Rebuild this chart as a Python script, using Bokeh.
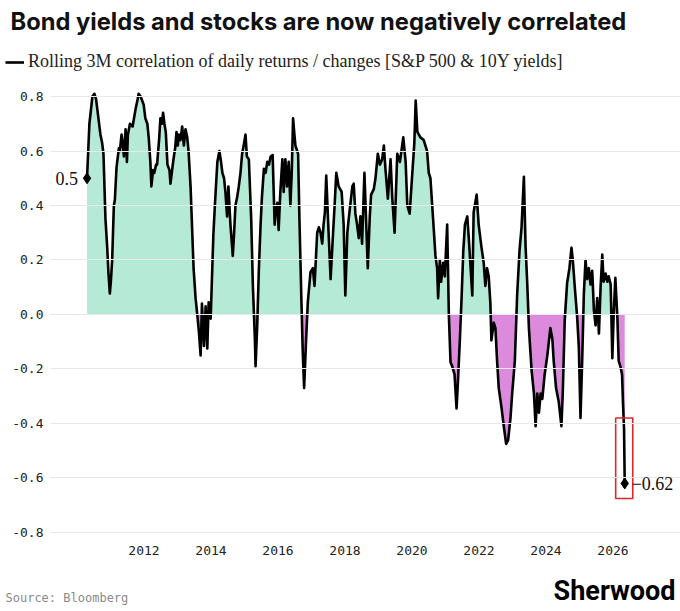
import numpy as np
from bokeh.plotting import figure
from bokeh.layouts import column
from bokeh.models import (Range1d, FixedTicker, NumeralTickFormatter, Label, Grid,
                          Legend, LegendItem)
from bokeh.core.properties import value
from bokeh.embed import file_html
from bokeh.resources import INLINE

# ---------------- data ----------------
years = [
    2010.30, 2010.37, 2010.46, 2010.52, 2010.57, 2010.64, 2010.70, 2010.75, 2010.79, 2010.85,
    2010.90, 2010.94, 2010.98, 2011.01, 2011.05, 2011.10, 2011.13, 2011.18, 2011.21, 2011.25,
    2011.28, 2011.33, 2011.37, 2011.40, 2011.45, 2011.49, 2011.52, 2011.58, 2011.66, 2011.75,
    2011.81, 2011.84, 2011.90, 2011.99, 2012.04, 2012.10, 2012.14, 2012.19, 2012.22, 2012.27,
    2012.31, 2012.36, 2012.39, 2012.45, 2012.49, 2012.53, 2012.57, 2012.61, 2012.65, 2012.70,
    2012.76, 2012.79, 2012.82, 2012.88, 2012.93, 2012.97, 2013.01, 2013.04, 2013.09, 2013.14,
    2013.19, 2013.24, 2013.29, 2013.33, 2013.39, 2013.48, 2013.54, 2013.59, 2013.64, 2013.69,
    2013.73, 2013.79, 2013.84, 2013.89, 2013.93, 2013.99, 2014.07, 2014.12, 2014.19, 2014.25,
    2014.30, 2014.34, 2014.39, 2014.43, 2014.48, 2014.52, 2014.58, 2014.65, 2014.69, 2014.73,
    2014.78, 2014.83, 2014.88, 2014.93, 2014.99, 2015.03, 2015.07, 2015.13, 2015.20, 2015.25,
    2015.31, 2015.33, 2015.38, 2015.43, 2015.48, 2015.52, 2015.58, 2015.63, 2015.68, 2015.73,
    2015.78, 2015.84, 2015.90, 2015.94, 2015.98, 2016.02, 2016.07, 2016.13, 2016.17, 2016.22,
    2016.27, 2016.32, 2016.37, 2016.41, 2016.45, 2016.49, 2016.52, 2016.60, 2016.64, 2016.70,
    2016.74, 2016.78, 2016.84, 2016.89, 2016.93, 2016.97, 2017.04, 2017.09, 2017.17, 2017.22,
    2017.27, 2017.32, 2017.36, 2017.40, 2017.44, 2017.50, 2017.57, 2017.64, 2017.69, 2017.74,
    2017.81, 2017.90, 2017.96, 2018.01, 2018.07, 2018.11, 2018.22, 2018.26, 2018.31, 2018.36,
    2018.41, 2018.46, 2018.51, 2018.58, 2018.64, 2018.68, 2018.74, 2018.78, 2018.86, 2018.91,
    2018.98, 2019.04, 2019.11, 2019.16, 2019.21, 2019.28, 2019.36, 2019.41, 2019.48, 2019.56,
    2019.64, 2019.74, 2019.81, 2019.86, 2019.93, 2020.01, 2020.07, 2020.11, 2020.16, 2020.25,
    2020.35, 2020.45, 2020.50, 2020.55, 2020.63, 2020.70, 2020.75, 2020.78, 2020.83, 2020.87,
    2020.93, 2020.98, 2021.05, 2021.10, 2021.15, 2021.20, 2021.27, 2021.33, 2021.37, 2021.43,
    2021.48, 2021.53, 2021.58, 2021.65, 2021.70, 2021.75, 2021.80, 2021.84, 2021.93, 2021.99,
    2022.07, 2022.14, 2022.19, 2022.24, 2022.29, 2022.34, 2022.37, 2022.44, 2022.49, 2022.54,
    2022.59, 2022.67, 2022.74, 2022.81, 2022.87, 2022.94, 2022.99, 2023.07, 2023.14, 2023.21,
    2023.27, 2023.34, 2023.39, 2023.44, 2023.49, 2023.57, 2023.64, 2023.69, 2023.74, 2023.79,
    2023.84, 2023.89, 2023.96, 2024.04, 2024.13, 2024.19, 2024.23, 2024.30, 2024.38, 2024.46,
    2024.50, 2024.56, 2024.63, 2024.70, 2024.76, 2024.80, 2024.86, 2024.93, 2024.98, 2025.03,
    2025.08, 2025.13, 2025.18, 2025.23, 2025.28, 2025.33, 2025.38, 2025.43, 2025.48, 2025.53,
    2025.58, 2025.63, 2025.68, 2025.72, 2025.78, 2025.83, 2025.87, 2025.93, 2025.98, 2026.02,
    2026.07, 2026.13, 2026.17, 2026.22, 2026.27, 2026.30, 2026.33, 2026.35,
]
correlation = [
    0.50, 0.70, 0.80, 0.81, 0.79, 0.72, 0.66, 0.63, 0.59, 0.35,
    0.25, 0.15, 0.077, 0.12, 0.20, 0.40, 0.42, 0.54, 0.57, 0.61,
    0.60, 0.66, 0.62, 0.58, 0.68, 0.56, 0.66, 0.70, 0.69, 0.755,
    0.79, 0.81, 0.80, 0.77, 0.72, 0.70, 0.65, 0.56, 0.47, 0.53,
    0.52, 0.55, 0.55, 0.64, 0.72, 0.70, 0.74, 0.70, 0.67, 0.55,
    0.53, 0.48, 0.51, 0.57, 0.61, 0.67, 0.62, 0.66, 0.64, 0.69,
    0.62, 0.68, 0.65, 0.60, 0.47, 0.17, 0.06, 0.00, -0.065, -0.15,
    0.04, -0.115, 0.03, -0.125, 0.045, -0.015, 0.29, 0.41, 0.56, 0.60,
    0.56, 0.52, 0.50, 0.45, 0.36, 0.47, 0.33, 0.215, 0.30, 0.40,
    0.43, 0.47, 0.52, 0.59, 0.63, 0.66, 0.58, 0.57, 0.35, 0.105,
    -0.09, -0.19, -0.04, 0.17, 0.33, 0.43, 0.535, 0.52, 0.56, 0.55,
    0.58, 0.585, 0.33, 0.39, 0.41, 0.31, 0.45, 0.57, 0.45, 0.57,
    0.47, 0.56, 0.40, 0.52, 0.72, 0.66, 0.62, 0.59, 0.35, 0.045,
    -0.14, -0.27, -0.09, 0.045, 0.10, 0.155, 0.17, 0.105, 0.30, 0.32,
    0.30, 0.26, 0.33, 0.375, 0.51, 0.33, 0.13, 0.29, 0.40, 0.52,
    0.47, 0.45, 0.33, 0.07, 0.30, 0.35, 0.47, 0.48, 0.37, 0.33,
    0.28, 0.36, 0.26, 0.52, 0.31, 0.17, 0.36, 0.44, 0.46, 0.50,
    0.59, 0.55, 0.57, 0.62, 0.53, 0.425, 0.57, 0.43, 0.30, 0.59,
    0.56, 0.65, 0.56, 0.40, 0.37, 0.52, 0.63, 0.785, 0.67, 0.65,
    0.64, 0.60, 0.52, 0.50, 0.35, 0.215, 0.17, 0.06, 0.20, 0.12,
    0.19, 0.14, 0.33, 0.00, -0.175, -0.19, -0.22, -0.345, -0.25, -0.09,
    0.06, 0.23, 0.33, 0.36, 0.27, 0.17, 0.07, 0.375, 0.44, 0.33,
    0.25, 0.19, 0.105, 0.17, 0.14, 0.04, -0.095, -0.03, -0.05, -0.17,
    -0.27, -0.34, -0.41, -0.475, -0.46, -0.38, -0.29, -0.17, 0.075, 0.235,
    0.32, 0.505, 0.25, 0.115, -0.05, -0.205, -0.29, -0.41, -0.29, -0.36,
    -0.29, -0.31, -0.22, -0.15, -0.05, -0.09, -0.17, -0.27, -0.32, -0.41,
    -0.29, -0.02, 0.115, 0.17, 0.245, 0.20, 0.10, -0.01, -0.12, -0.38,
    -0.17, 0.075, 0.20, 0.13, 0.17, 0.11, 0.16, 0.015, -0.04, 0.06,
    -0.07, 0.10, 0.22, 0.12, 0.15, 0.12, 0.14, 0.11, -0.16, 0.00,
    0.135, -0.01, -0.17, -0.19, -0.22, -0.33, -0.42, -0.62,
]

y_ticks = [-0.8, -0.6, -0.4, -0.2, 0.0, 0.2, 0.4, 0.6, 0.8]
x_ticks = [2012, 2014, 2016, 2018, 2020, 2022, 2024, 2026]

title_text = "Bond yields and stocks are now negatively correlated"
legend_text = "Rolling 3M correlation of daily returns / changes [S&P 500 & 10Y yields]"
source_text = "Source: Bloomberg"
brand_text = "Sherwood"

POS_COLOR = "#b4ead6"
NEG_COLOR = "#dc8bdc"

# ---------------- fill polygons with exact zero crossings ----------------
x = np.array(years, dtype=float)
y = np.array(correlation, dtype=float)
fx, fy = [x[0]], [y[0]]
for i in range(1, len(x)):
    if y[i - 1] * y[i] < 0:
        t = y[i - 1] / (y[i - 1] - y[i])
        fx.append(x[i - 1] + t * (x[i] - x[i - 1]))
        fy.append(0.0)
    fx.append(x[i])
    fy.append(y[i])
fx = np.array(fx)
fy = np.array(fy)

W = 680
H_HEAD, H_MAIN, H_FOOT = 76, 488, 47

X_START, X_END, GRID_END = 2009.209, 2028.015, 2027.06
Y_START, Y_END = -0.8294, 0.8514


def bare(fig):
    fig.axis.visible = False
    fig.grid.visible = False
    fig.outline_line_color = None
    return fig


# ---------------- header: title + legend ----------------
head = bare(figure(width=W, height=H_HEAD, output_backend="svg", toolbar_location=None,
                   x_range=Range1d(0, W), y_range=Range1d(0, H_HEAD),
                   min_border=0, min_border_left=0, min_border_right=0,
                   min_border_top=0, min_border_bottom=0, title=None, frame_align=False,
                   x_axis_location=None, y_axis_location=None))
head.text(x=[10], y=[55], text=[title_text], text_font=value("Inter"),
          text_font_style="bold", text_font_size="23.7px", text_color="#111111",
          text_baseline="middle")
key = head.line(x=[np.nan], y=[np.nan], line_color="black", line_width=2.6)
head.add_layout(Legend(items=[LegendItem(label=legend_text, renderers=[key])],
                       location=(5, 4), padding=0, margin=0, spacing=0,
                       border_line_color=None, background_fill_alpha=0,
                       glyph_width=19, glyph_height=16, label_standoff=4,
                       label_text_font="Liberation Serif", label_text_font_size="18px",
                       label_text_color="#222222", label_text_baseline="middle"))

# ---------------- main chart ----------------
p = figure(width=W, height=H_MAIN, output_backend="svg", toolbar_location=None, title=None,
           x_range=Range1d(X_START, X_END), y_range=Range1d(Y_START, Y_END),
           min_border_left=50, min_border_right=0, min_border_top=6, min_border_bottom=24,
           frame_align=False)
p.outline_line_color = None

p.varea(x=fx, y1=np.zeros_like(fy), y2=np.maximum(fy, 0), fill_color=POS_COLOR)
p.varea(x=fx, y1=np.zeros_like(fy), y2=np.minimum(fy, 0), fill_color=NEG_COLOR)

zero_grid = Grid(dimension=1, ticker=FixedTicker(ticks=[0.0]), grid_line_color="#666666",
                 grid_line_width=1.5, bounds=(X_START, GRID_END), level="glyph")
p.add_layout(zero_grid)

line = p.line(x, y, line_color="black", line_width=2.6, line_join="round")

p.scatter([x[0], x[-1]], [y[0], y[-1]], marker="diamond", size=11, color="black")

p.quad(left=[x[-1] - 0.27], right=[x[-1] + 0.24], top=[y[-1] + 0.24], bottom=[y[-1] - 0.055],
       fill_alpha=0, line_color="#e0262b", line_width=1.6)

p.add_layout(Label(x=x[0], y=y[0], x_offset=-9, text=f"{y[0]:.1f}", text_align="right",
                   text_baseline="middle", text_font="Liberation Serif", text_font_size="18px",
                   text_color="#111111"))
p.add_layout(Label(x=x[-1], y=y[-1], x_offset=7, text=f"\u2212{abs(y[-1]):.2f}",
                   text_align="left", text_baseline="middle", text_font="Liberation Serif",
                   text_font_size="18px", text_color="#111111"))

for ax in (p.xaxis[0], p.yaxis[0]):
    ax.axis_line_color = None
    ax.major_tick_line_color = None
    ax.minor_tick_line_color = None
    ax.major_tick_out = 0
    ax.major_tick_in = 0
    ax.minor_tick_out = 0
    ax.minor_tick_in = 0
    ax.major_label_text_font = "DejaVu Sans Mono"
    ax.major_label_text_font_size = "13px"
    ax.major_label_text_color = "#222222"
p.yaxis.ticker = FixedTicker(ticks=y_ticks)
p.yaxis.formatter = NumeralTickFormatter(format="0.0")
p.yaxis.major_label_standoff = 7
p.xaxis.ticker = FixedTicker(ticks=x_ticks)
p.xaxis.formatter = NumeralTickFormatter(format="0")
p.xaxis.major_label_standoff = 5
p.xgrid.visible = False
p.ygrid.ticker = FixedTicker(ticks=y_ticks)
p.ygrid.grid_line_color = "#e8e8e8"
p.ygrid.grid_line_width = 1
p.ygrid.bounds = (X_START, GRID_END)

# ---------------- footer: source + brand ----------------
foot = bare(figure(width=W, height=H_FOOT, output_backend="svg", toolbar_location=None,
                   x_range=Range1d(0, W), y_range=Range1d(0, H_FOOT),
                   min_border=0, min_border_left=0, min_border_right=0,
                   min_border_top=0, min_border_bottom=0, title=None, frame_align=False,
                   x_axis_location=None, y_axis_location=None))
foot.text(x=[5], y=[14], text=[source_text], text_font=value("DejaVu Sans Mono"),
          text_font_size="12px", text_color="#8a8a8a", text_baseline="middle")
foot.text(x=[675], y=[21], text=[brand_text], text_font=value("Roboto"),
          text_font_style="bold", text_font_size="27px", text_color="#000000",
          text_align="right", text_baseline="middle")

layout = column(head, p, foot, spacing=0)
open("out.html", "w").write(file_html(layout, INLINE))
